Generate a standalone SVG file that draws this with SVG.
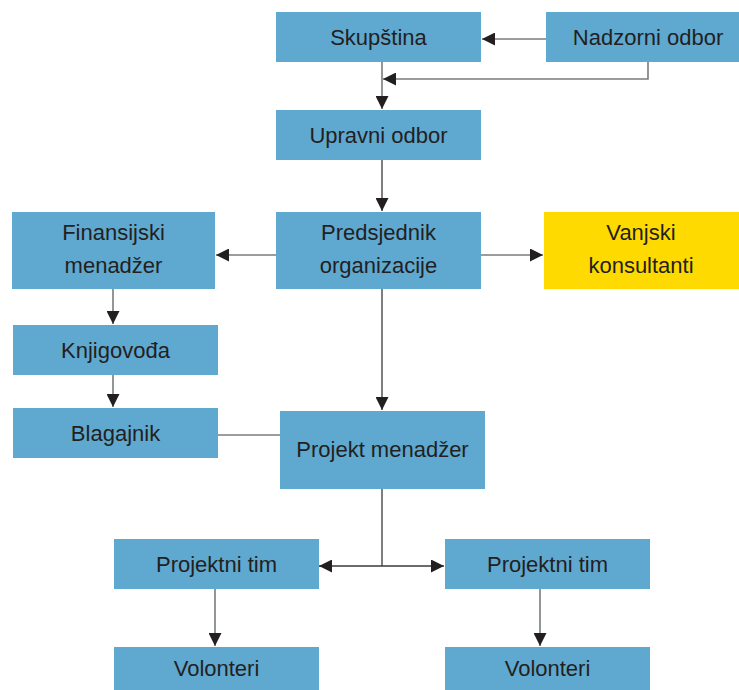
<svg xmlns="http://www.w3.org/2000/svg" width="739" height="690" viewBox="0 0 739 690">
<style>
.b{fill:#5fa8d0}
.y{fill:#ffda00}
text{font-family:"Liberation Sans","Noto Sans",sans-serif;font-size:22px;fill:#231f20;text-anchor:middle}
.c{fill:none;stroke:#7a7b7e;stroke-width:1.6}
.d{fill:none;stroke:#3a3a3c;stroke-width:1.3}
</style>
<defs>
<marker id="a" viewBox="0 0 10 10" refX="10" refY="5" markerWidth="14" markerHeight="13" markerUnits="userSpaceOnUse" orient="auto">
<path d="M0,0 L10,5 L0,10 Z" fill="#231f20"/>
</marker>
</defs>
<rect width="739" height="690" fill="#fff"/>
<g id="connectors">
<path class="c" d="M546,39 H482" marker-end="url(#a)"/>
<path class="c" d="M648,62 V79 H383" marker-end="url(#a)"/>
<path class="c" d="M382,62 V109" marker-end="url(#a)"/>
<path class="d" d="M382,160 V211" marker-end="url(#a)"/>
<path class="c" d="M276,255 H216" marker-end="url(#a)"/>
<path class="c" d="M481,255 H543" marker-end="url(#a)"/>
<path class="c" d="M113,289 V324" marker-end="url(#a)"/>
<path class="c" d="M113,375 V407" marker-end="url(#a)"/>
<path class="d" d="M382,289 V410" marker-end="url(#a)"/>
<path class="c" d="M218,435 H280"/>
<path class="d" d="M382,489 V566"/>
<path class="d" d="M382,566 H319" marker-end="url(#a)"/>
<path class="d" d="M382,566 H444" marker-end="url(#a)"/>
<path class="c" d="M215,589 V646" marker-end="url(#a)"/>
<path class="c" d="M540,589 V646" marker-end="url(#a)"/>
</g>
<g id="skupstina"><rect class="b" x="276" y="12" width="205" height="50"/><text x="378.5" y="45">Skupština</text></g>
<g id="nadzorni"><rect class="b" x="546" y="12" width="193" height="50"/><text x="648" y="45">Nadzorni odbor</text></g>
<g id="upravni"><rect class="b" x="276" y="110" width="205" height="50"/><text x="378.5" y="143">Upravni odbor</text></g>
<g id="finansijski"><rect class="b" x="12" y="212" width="203" height="77"/><text x="113.5" y="240">Finansijski</text><text x="113.5" y="273">menadžer</text></g>
<g id="predsjednik"><rect class="b" x="276" y="212" width="205" height="77"/><text x="378.5" y="240">Predsjednik</text><text x="378.5" y="273">organizacije</text></g>
<g id="vanjski"><rect class="y" x="544" y="212" width="195" height="77"/><text x="641" y="240">Vanjski</text><text x="641" y="273">konsultanti</text></g>
<g id="knjigovodja"><rect class="b" x="13" y="325" width="205" height="50"/><text x="115.5" y="358">Knjigovođa</text></g>
<g id="blagajnik"><rect class="b" x="13" y="408" width="205" height="50"/><text x="115.5" y="441">Blagajnik</text></g>
<g id="projekt"><rect class="b" x="280" y="411" width="205" height="78"/><text x="382.5" y="457">Projekt menadžer</text></g>
<g id="tim1"><rect class="b" x="114" y="539" width="205" height="50"/><text x="216.5" y="572">Projektni tim</text></g>
<g id="tim2"><rect class="b" x="445" y="539" width="205" height="50"/><text x="547.5" y="572">Projektni tim</text></g>
<g id="vol1"><rect class="b" x="114" y="647" width="205" height="43"/><text x="216.5" y="676">Volonteri</text></g>
<g id="vol2"><rect class="b" x="445" y="647" width="205" height="43"/><text x="547.5" y="676">Volonteri</text></g>
</svg>
